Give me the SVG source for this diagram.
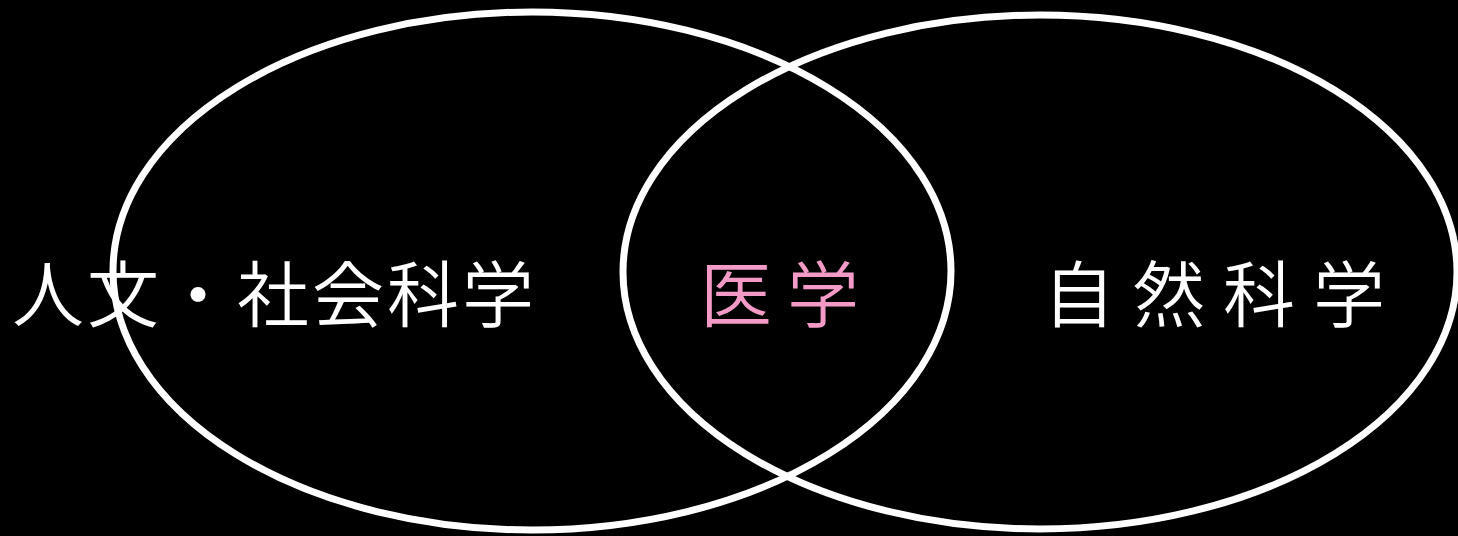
<svg xmlns="http://www.w3.org/2000/svg" width="1458" height="536" viewBox="0 0 1458 536">
<style>
.c{fill:none;stroke:#fff;stroke-width:7}
.t{font-family:"Noto Sans CJK JP","Noto Sans CJK SC",sans-serif;font-size:72px;font-weight:350;fill:#fff}
</style>
<rect width="1458" height="536" fill="#000"/>
<g id="connectors"></g>
<g id="left"><ellipse class="c" cx="532" cy="271" rx="419" ry="259"/></g>
<g id="right"><ellipse class="c" cx="1040" cy="272" rx="417" ry="257"/></g>
<g id="label-left"><text class="t" x="12" y="321" letter-spacing="3">人文・社会科学</text></g>
<g id="label-center"><text class="t" x="700" y="321" letter-spacing="15" style="fill:#f39bc6">医学</text></g>
<g id="label-right"><text class="t" x="1043" y="321" letter-spacing="18">自然科学</text></g>
</svg>
